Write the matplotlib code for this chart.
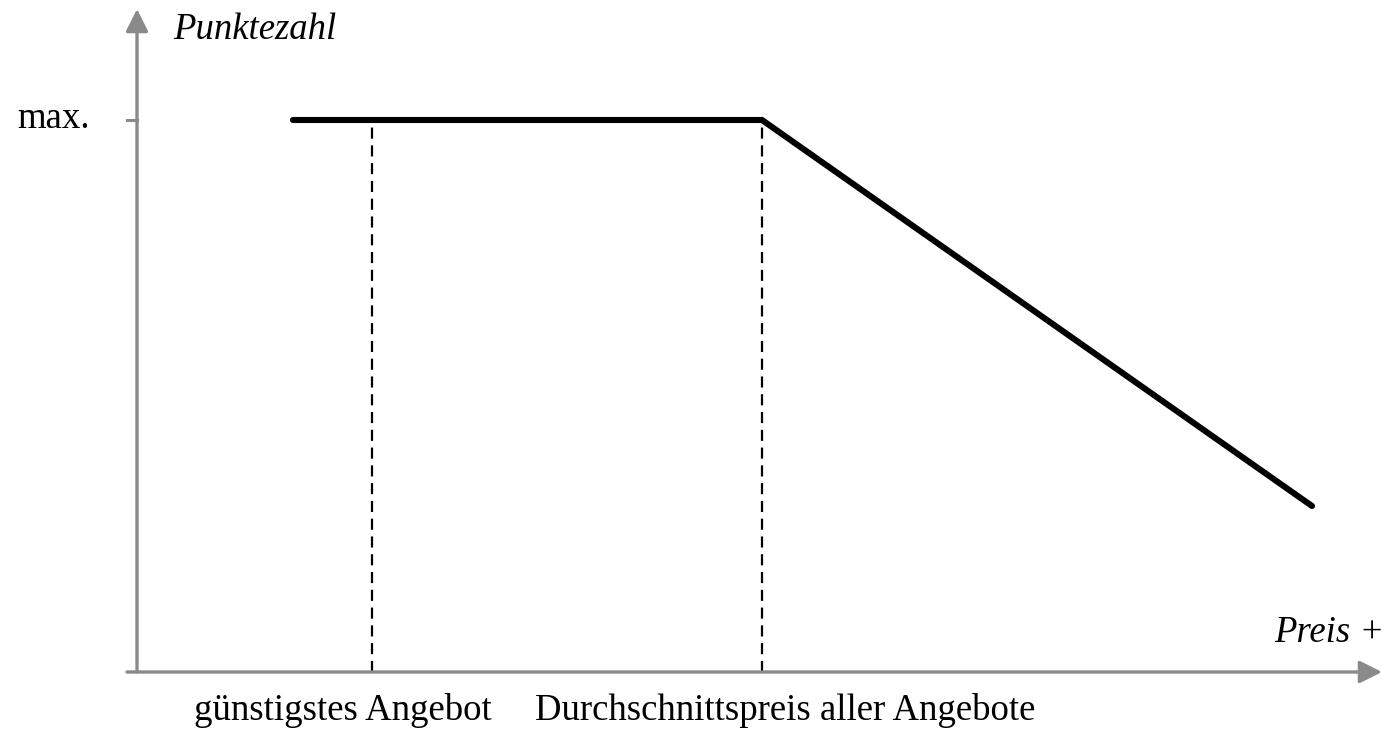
import numpy as np
import matplotlib.pyplot as plt

# data (1 unit = 100 px, origin at axis crossing)
score_x = [1.56, 6.25, 11.75]
score_y = [5.52, 5.52, 1.66]
marker_x = [2.35, 6.25]
marker_labels = ["günstigstes Angebot", "Durchschnittspreis aller Angebote"]
label_x = [2.06, 6.48]
y_max = 5.52

plt.rcParams['font.family'] = ['Liberation Serif', 'DejaVu Serif']
grey = '#8a8a8a'

fig = plt.figure(figsize=(13.82, 7.30), dpi=100)
ax = fig.add_axes([0, 0, 1, 1])
ax.set_xlim(-1.37, 12.45)
ax.set_ylim(-0.58, 6.72)
ax.axis('off')

# axes with arrows
ax.annotate('', xy=(0, 6.63), xytext=(0, 0),
            arrowprops=dict(arrowstyle='-|>', color=grey, lw=2.4, mutation_scale=34,
                            shrinkA=0, shrinkB=0))
ax.annotate('', xy=(12.45, 0), xytext=(-0.1, 0),
            arrowprops=dict(arrowstyle='-|>', color=grey, lw=2.4, mutation_scale=34,
                            shrinkA=0, shrinkB=0))
ax.plot([-0.1, 0], [y_max, y_max], color=grey, lw=2.2)

# dashed markers
for mx in marker_x:
    ax.plot([mx, mx], [0, y_max], color='black', lw=1.6, linestyle=(0, (5, 3)))

# score curve
ax.plot(score_x, score_y, color='black', lw=4.4, solid_capstyle='round', solid_joinstyle='miter')

# labels
fs = 26.5
ax.text(0.36, 6.42, "Punktezahl", fontsize=fs, style='italic', va='center', ha='left')
ax.text(-0.47, y_max + 0.01, "max.", fontsize=fs, va='center', ha='right')
ax.text(12.47, 0.39, "Preis +", fontsize=fs, style='italic', va='center', ha='right')
for lx, lab in zip(label_x, marker_labels):
    ax.text(lx, -0.39, lab, fontsize=fs, va='center', ha='center')

fig.savefig('out.png', dpi=100)
